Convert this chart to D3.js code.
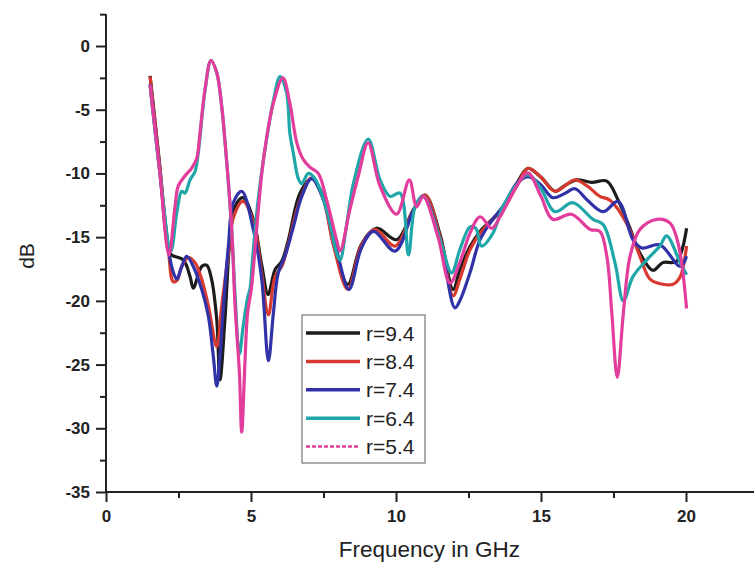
<!DOCTYPE html>
<html>
<head>
<meta charset="utf-8">
<script src="https://cdn.jsdelivr.net/npm/d3@7"></script>
<style>
  body { margin: 0; background: #fff; }
  svg { display: block; font-family: "Liberation Sans", Arial, sans-serif; }
  .tick text { font-weight: bold; font-size: 17px; fill: #222; }
  .axis path, .axis line { stroke: #222; stroke-width: 2; }
</style>
</head>
<body>
<div id="chart"></div>
<script>
// Series data, [frequency in GHz, dB]
var r94 = [[1.52,-2.35],[1.85,-9.3],[2.15,-16.0],[2.26,-16.4],[2.67,-16.8],[2.9,-18.1],[3.01,-19.0],[3.3,-17.3],[3.47,-17.2],[3.64,-18.3],[3.82,-21.5],[3.93,-26.2],[4.1,-21.5],[4.28,-15.0],[4.45,-12.6],[4.72,-11.9],[5.08,-13.6],[5.37,-17.2],[5.59,-19.5],[5.83,-17.55],[6.06,-16.9],[6.29,-15.2],[6.69,-11.55],[7.09,-10.4],[7.49,-11.8],[7.84,-15.5],[8.34,-18.7],[8.8,-15.6],[9.33,-14.3],[10.02,-15.2],[10.6,-12.85],[11.0,-11.7],[11.52,-14.8],[11.97,-19.1],[12.2,-17.55],[12.55,-15.75],[12.9,-14.55],[13.34,-13.55],[13.69,-12.6],[14.16,-10.8],[14.55,-9.6],[15.0,-10.3],[15.48,-11.4],[15.85,-10.9],[16.23,-10.5],[16.75,-10.7],[17.27,-10.6],[17.66,-12.1],[18.05,-14.2],[18.4,-16.2],[18.86,-17.6],[19.2,-17.0],[19.68,-16.9],[20.02,-14.3]];
var r84 = [[1.52,-2.4],[1.85,-9.4],[2.15,-16.0],[2.32,-18.5],[2.45,-18.4],[2.61,-17.3],[2.84,-16.6],[3.07,-17.0],[3.3,-18.3],[3.53,-20.4],[3.82,-23.6],[3.99,-20.4],[4.22,-16.3],[4.39,-13.5],[4.72,-12.2],[5.08,-13.8],[5.37,-17.9],[5.6,-21.1],[5.83,-18.1],[6.06,-17.3],[6.29,-15.5],[6.69,-12.1],[7.09,-10.35],[7.49,-12.0],[7.84,-15.6],[8.34,-19.1],[8.8,-15.7],[9.28,-14.4],[9.97,-15.7],[10.6,-12.85],[11.0,-11.7],[11.52,-15.0],[11.97,-19.6],[12.2,-18.3],[12.55,-16.0],[12.9,-14.7],[13.34,-13.6],[13.69,-12.85],[14.16,-11.0],[14.55,-9.6],[15.0,-10.3],[15.48,-11.4],[16.17,-10.5],[16.6,-11.0],[17.03,-11.8],[17.38,-12.1],[17.95,-13.9],[18.41,-16.5],[18.76,-18.3],[19.2,-18.7],[19.55,-18.7],[19.8,-18.1],[20.02,-15.7]];
var r74 = [[1.52,-3.0],[1.85,-9.8],[2.17,-16.2],[2.3,-17.6],[2.44,-18.3],[2.6,-17.4],[2.78,-16.5],[3.01,-17.3],[3.3,-19.1],[3.53,-21.2],[3.7,-24.35],[3.82,-26.7],[3.93,-24.35],[4.05,-20.4],[4.22,-15.7],[4.39,-12.3],[4.68,-11.4],[5.08,-14.4],[5.37,-18.3],[5.6,-24.7],[5.77,-21.0],[5.94,-17.8],[6.17,-16.5],[6.46,-14.2],[6.75,-11.8],[7.09,-10.4],[7.49,-12.0],[7.95,-16.0],[8.38,-19.1],[8.8,-15.9],[9.22,-14.55],[9.97,-16.1],[10.6,-12.9],[10.94,-11.8],[11.52,-15.3],[12.03,-20.55],[12.2,-20.0],[12.55,-17.8],[12.9,-15.2],[13.34,-13.6],[13.69,-12.6],[14.16,-10.8],[14.55,-10.25],[15.0,-10.9],[15.4,-11.9],[15.8,-11.6],[16.17,-11.2],[16.6,-12.1],[17.14,-13.0],[17.66,-12.2],[18.17,-15.2],[18.47,-15.85],[19.1,-15.6],[19.8,-17.3],[20.02,-16.5]];
var r64 = [[1.52,-3.05],[1.85,-9.8],[2.24,-16.1],[2.44,-13.1],[2.61,-11.4],[2.72,-11.55],[2.9,-10.5],[3.07,-9.85],[3.18,-8.4],[3.41,-3.6],[3.62,-1.15],[3.82,-2.1],[3.99,-4.75],[4.1,-7.4],[4.33,-14.2],[4.45,-19.5],[4.6,-24.2],[4.73,-22.0],[4.88,-19.8],[4.97,-19.0],[5.05,-16.8],[5.25,-12.0],[5.43,-8.9],[5.77,-4.3],[6.0,-2.4],[6.23,-3.7],[6.34,-6.85],[6.46,-8.4],[6.63,-10.4],[6.75,-10.8],[6.98,-10.0],[7.2,-10.4],[7.61,-12.85],[7.95,-16.25],[8.07,-16.8],[8.3,-14.0],[8.53,-10.8],[9.04,-7.3],[9.45,-10.5],[9.79,-11.8],[10.14,-11.55],[10.43,-16.4],[10.66,-12.6],[10.94,-11.8],[11.52,-15.2],[11.92,-17.8],[12.2,-16.0],[12.55,-14.2],[12.75,-14.3],[12.95,-15.7],[13.34,-14.7],[13.69,-12.6],[14.16,-10.9],[14.55,-10.1],[15.0,-11.2],[15.48,-13.0],[16.1,-12.3],[16.79,-13.6],[17.14,-14.0],[17.55,-17.0],[17.84,-20.0],[18.17,-18.1],[18.64,-16.8],[19.1,-15.7],[19.33,-14.9],[19.8,-17.0],[20.02,-17.95]];
var r54 = [[1.52,-3.05],[1.85,-9.8],[2.17,-16.4],[2.38,-12.6],[2.49,-11.0],[2.72,-10.2],[2.95,-9.6],[3.13,-8.8],[3.24,-6.85],[3.41,-3.45],[3.62,-1.15],[3.82,-2.1],[3.99,-4.75],[4.1,-7.4],[4.33,-14.2],[4.45,-20.4],[4.6,-25.6],[4.68,-30.3],[4.79,-24.9],[4.88,-21.0],[5.02,-18.9],[5.2,-14.2],[5.43,-8.9],[5.77,-4.5],[6.1,-2.5],[6.34,-4.5],[6.58,-7.6],[6.8,-8.9],[7.03,-9.5],[7.32,-10.0],[7.61,-12.1],[7.95,-15.2],[8.07,-16.1],[8.41,-12.85],[8.7,-10.2],[9.04,-7.6],[9.45,-11.0],[10.02,-13.2],[10.46,-10.5],[10.71,-12.6],[10.94,-11.8],[11.45,-15.0],[11.86,-18.6],[12.2,-17.0],[12.55,-14.7],[12.9,-13.4],[13.3,-14.3],[13.59,-13.4],[14.16,-11.0],[14.55,-9.95],[15.0,-11.8],[15.4,-13.6],[16.05,-13.2],[16.7,-14.4],[17.03,-14.55],[17.27,-16.5],[17.44,-20.9],[17.63,-26.0],[17.84,-20.95],[18.07,-16.5],[18.41,-14.4],[18.99,-13.6],[19.45,-13.9],[19.73,-15.5],[20.02,-20.6]];

var seriesNames = ["r=9.4", "r=8.4", "r=7.4", "r=6.4", "r=5.4"];
var seriesColors = ["#1c1c1c", "#d8392e", "#3131a8", "#1fa6a8", "#e23c9c"];
var xTicks = [0, 5, 10, 15, 20];
var yTicks = [0, -5, -10, -15, -20, -25, -30, -35];

var width = 754, height = 567;
var margin = { top: 14, left: 106, bottom: 492 };

var svg = d3.select("#chart").append("svg")
    .attr("width", width)
    .attr("height", height);

var x = d3.scaleLinear().domain([0, 20]).range([margin.left, 686]);
var y = d3.scaleLinear().domain([-35, 0]).range([margin.bottom, 46]);

// minor ticks first (shorter), then major ticks with labels
var xMinor = d3.range(2.5, x.invert(width), 5);
var yMinor = d3.range(-32.5, 3, 5);

svg.append("g")
    .attr("class", "axis")
    .attr("transform", "translate(0," + margin.bottom + ")")
    .call(d3.axisBottom(x).tickValues(xMinor).tickSize(6).tickFormat(""))
    .call(function (g) { g.select(".domain").remove(); });

svg.append("g")
    .attr("class", "axis")
    .attr("transform", "translate(" + margin.left + ",0)")
    .call(d3.axisLeft(y).tickValues(yMinor).tickSize(6).tickFormat(""))
    .call(function (g) { g.select(".domain").remove(); });

// plain hyphen for negatives, as in the figure
function plain(d) { return String(d); }

svg.append("g")
    .attr("class", "axis")
    .attr("transform", "translate(0," + margin.bottom + ")")
    .call(d3.axisBottom(x).tickValues(xTicks).tickSize(10).tickPadding(8).tickFormat(plain))
    .call(function (g) { g.select(".domain").remove(); });

svg.append("g")
    .attr("class", "axis")
    .attr("transform", "translate(" + margin.left + ",0)")
    .call(d3.axisLeft(y).tickValues(yTicks).tickSize(10).tickPadding(6).tickFormat(plain))
    .call(function (g) { g.select(".domain").remove(); });

// axis lines: left one up to 2.5 dB, bottom one runs off the right edge
svg.append("line")
    .attr("x1", margin.left).attr("x2", margin.left)
    .attr("y1", y(2.5)).attr("y2", margin.bottom)
    .attr("stroke", "#222").attr("stroke-width", 2);
svg.append("line")
    .attr("x1", margin.left).attr("x2", width)
    .attr("y1", margin.bottom).attr("y2", margin.bottom)
    .attr("stroke", "#222").attr("stroke-width", 2);

// axis titles
svg.append("text")
    .attr("x", (x(0) + x(22.3)) / 2)
    .attr("y", 557)
    .attr("text-anchor", "middle")
    .attr("font-size", 22.5)
    .attr("fill", "#222")
    .text("Frequency in GHz");

svg.append("text")
    .attr("transform", "translate(34,256) rotate(-90)")
    .attr("text-anchor", "middle")
    .attr("font-size", 21)
    .attr("fill", "#222")
    .text("dB");

// curves
var line = d3.line()
    .x(function (d) { return x(d[0]); })
    .y(function (d) { return y(d[1]); })
    .curve(d3.curveCatmullRom.alpha(0.5));

var allSeries = [r94, r84, r74, r64, r54];
svg.selectAll("path.curve")
    .data(allSeries)
    .enter().append("path")
    .attr("class", "curve")
    .attr("fill", "none")
    .attr("stroke", function (d, i) { return seriesColors[i]; })
    .attr("stroke-width", 3.2)
    .attr("stroke-linejoin", "round")
    .attr("d", line);

// legend
var legend = svg.append("g").attr("transform", "translate(302,315)");
legend.append("rect")
    .attr("width", 123)
    .attr("height", 148)
    .attr("fill", "#fff")
    .attr("stroke", "#777")
    .attr("stroke-width", 1.2);

var item = legend.selectAll("g.item")
    .data(seriesNames)
    .enter().append("g")
    .attr("class", "item")
    .attr("transform", function (d, i) { return "translate(0," + (18 + i * 28.4) + ")"; });

item.append("line")
    .attr("x1", 4).attr("x2", 58)
    .attr("stroke", function (d, i) { return seriesColors[i]; })
    .attr("stroke-width", function (d, i) { return i == 4 ? 2.5 : 3.5; })
    .attr("stroke-dasharray", function (d, i) { return i == 4 ? "4,2" : null; });

item.append("text")
    .attr("x", 64)
    .attr("dy", "0.36em")
    .attr("font-size", 21)
    .attr("fill", "#222")
    .text(function (d) { return d; });
</script>
</body>
</html>
